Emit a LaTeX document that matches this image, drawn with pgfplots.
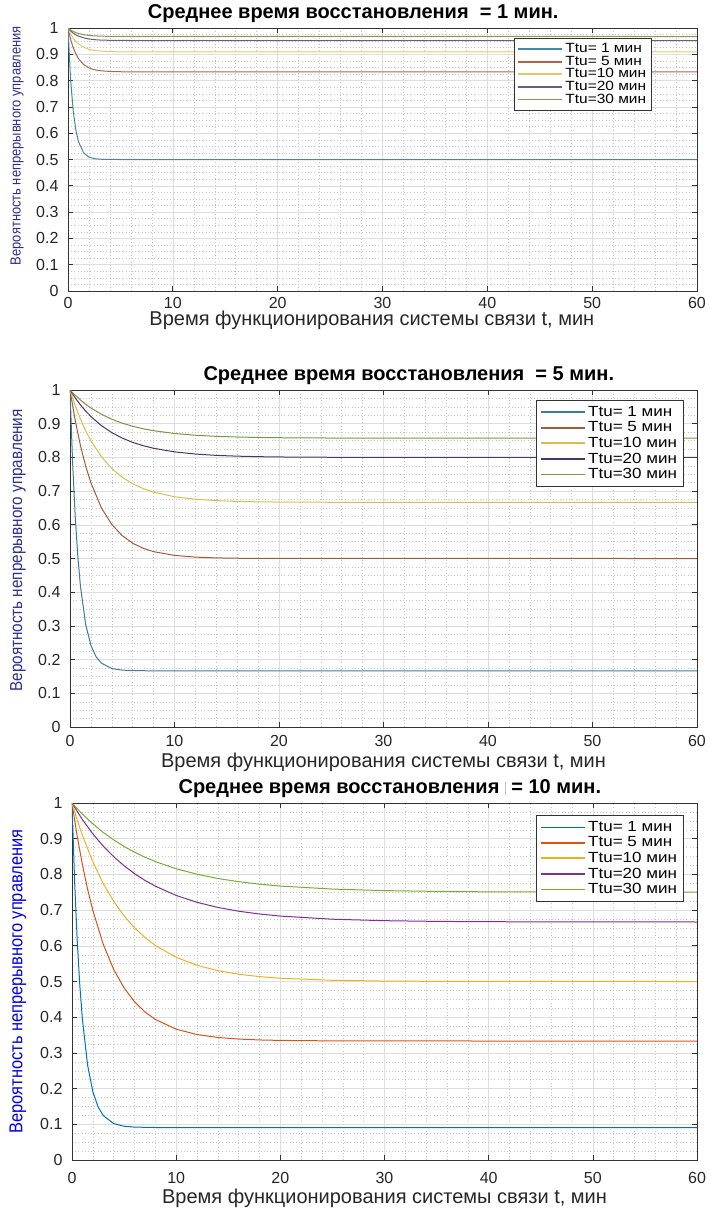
\documentclass[border=0pt]{standalone}
\usepackage{fontspec}
\setmainfont{Liberation Sans}
\newfontfamily\narrowfont[FakeStretch=0.88]{Liberation Sans}
\newfontfamily\wideface[FakeStretch=1.16]{Liberation Sans}
\usepackage{pgfplots}
\pgfplotsset{compat=1.18}

\definecolor{a1c1}{RGB}{70,135,165}
\definecolor{a1c2}{RGB}{175,100,70}
\definecolor{a1c3}{RGB}{225,200,110}
\definecolor{a1c4}{RGB}{110,90,130}
\definecolor{a1c5}{RGB}{140,150,80}
\definecolor{a2c1}{RGB}{60,125,150}
\definecolor{a2c2}{RGB}{165,90,55}
\definecolor{a2c3}{RGB}{215,190,80}
\definecolor{a2c4}{RGB}{80,50,100}
\definecolor{a2c5}{RGB}{120,150,70}
\definecolor{mc1}{HTML}{0072BD}
\definecolor{mc2}{HTML}{D95319}
\definecolor{mc3}{HTML}{EDB120}
\definecolor{mc4}{HTML}{7E2F8E}
\definecolor{mc5}{HTML}{77AC30}
\definecolor{ylab}{RGB}{45,45,150}
\definecolor{ylabb}{RGB}{0,0,235}

\pgfplotsset{
  matlab/.style={
    anchor=north west, scale only axis,
    xmin=0, xmax=60, ymin=0, ymax=1,
    xtick={0,10,20,30,40,50,60},
    ytick={0,0.1,0.2,0.3,0.4,0.5,0.6,0.7,0.8,0.9,1},
    minor x tick num=4, minor y tick num=3,
    grid=both,
    major grid style={draw=black!13, line width=0.45pt},
    minor grid style={draw=black!22, dotted, line width=0.35pt},
    axis line style={draw=black!80, line width=0.5pt},
    tick align=inside, tick pos=both,
    major tick length=3.5pt, minor tick length=0pt,
    tick style={draw=black!80, line width=0.5pt},
    /pgf/number format/assume math mode=true,
    ticklabel style={font=\fontsize{12}{14}\selectfont, text=black!85},
    yticklabel style={anchor=east, inner sep=0pt, xshift=-7pt},
    title style={at={(axis description cs:0.5,1)}, anchor=center, yshift=4.5pt,
                 font=\bfseries\fontsize{15}{17}\selectfont},
    xlabel style={at={(axis description cs:0.5,0)}, anchor=center,
                  font=\fontsize{15}{17}\selectfont, text=black!85},
    legend cell align=left,
    legend image code/.code={\draw[##1, line width=1.4pt] (0pt,0pt) -- (33pt,0pt);},
    every axis plot/.append style={line width=0.75pt, no markers},
  }
}

\begin{document}
\begin{tikzpicture}
\useasboundingbox (0,0) rectangle (531pt,-906pt);

% ---------------- Axis 1: Tv = 1 ----------------
\begin{axis}[matlab,
  at={(51pt,-21pt)}, width=471.75pt, height=197.25pt,
  title={Среднее время восстановления\ \ = 1 мин.},
  title style={xshift=-22pt},
  xlabel={Время функционирования системы связи t, мин},
  xlabel style={yshift=-21.75pt, xshift=-8pt},
  xticklabel style={anchor=center, yshift=-9pt},
  ylabel={Вероятность непрерывного управления},
  ylabel style={at={(axis description cs:-0.081,0.553)}, anchor=center,
                font=\narrowfont\fontsize{11}{13}\selectfont, text=ylab},
  legend style={at={(axis description cs:0.928,0.962)}, anchor=north east,
                draw=black!80, fill=white, font=\wideface\fontsize{10}{11}\selectfont,
                row sep=-3pt, inner sep=2pt},
]
\addplot[a1c1] coordinates {(0,1)(0.25,0.8033)(0.5,0.6839)(0.75,0.6116)(1,0.5677)(1.5,0.5249)(2,0.5092)(2.5,0.5034)(3,0.5012)(4,0.5002)(5,0.5)(60,0.5)};
\addplot[a1c2] coordinates {(0,1)(0.25,0.9568)(0.5,0.9248)(0.75,0.9011)(1,0.8835)(1.5,0.8609)(2,0.8484)(2.5,0.8416)(3,0.8379)(4,0.8347)(5,0.8337)(6,0.8334)(60,0.8333)};
\addplot[a1c3] coordinates {(0,1)(0.25,0.9781)(0.5,0.9615)(0.75,0.9489)(1,0.9394)(1.5,0.9266)(2,0.9192)(2.5,0.9149)(3,0.9125)(4,0.9102)(5,0.9095)(6,0.9092)(60,0.9091)};
\addplot[a1c4] coordinates {(0,1)(0.25,0.9890)(0.5,0.9806)(0.75,0.9741)(1,0.9691)(1.5,0.9623)(2,0.9582)(2.5,0.9558)(3,0.9544)(4,0.9531)(5,0.9526)(6,0.9525)(60,0.9524)};
\addplot[a1c5] coordinates {(0,1)(0.25,0.9926)(0.5,0.9870)(0.75,0.9826)(1,0.9792)(1.5,0.9746)(2,0.9718)(2.5,0.9701)(3,0.9692)(4,0.9682)(5,0.9679)(6,0.9678)(60,0.9677)};
\legend{Ttu= 1 мин, Ttu= 5 мин, Ttu=10 мин, Ttu=20 мин, Ttu=30 мин}
\end{axis}

% ---------------- Axis 2: Tv = 5 ----------------
\begin{axis}[matlab,
  at={(52.5pt,-292.5pt)}, width=470.25pt, height=252.75pt,
  title={Среднее время восстановления\ \ = 5 мин.},
  title style={xshift=19pt},
  xlabel={Время функционирования системы связи t, мин},
  xlabel style={yshift=-26.25pt},
  xticklabel style={anchor=center, yshift=-10.5pt},
  ylabel={Вероятность непрерывного управления},
  ylabel style={at={(axis description cs:-0.083,0.524)}, anchor=center,
                font=\narrowfont\fontsize{13}{15}\selectfont, text=ylab},
  legend style={at={(axis description cs:0.978,0.970)}, anchor=north east,
                draw=black!80, fill=white, font=\wideface\fontsize{11}{12}\selectfont,
                row sep=-1.5pt, inner sep=2.5pt},
]
\addplot[a2c1] coordinates {(0,1)(0.25,0.7840)(0.5,0.6240)(0.75,0.5055)(1,0.4177)(1.5,0.3045)(2,0.2423)(2.5,0.2082)(3,0.1895)(4,0.1735)(5,0.1688)(6,0.1673)(8,0.1667)(60,0.1667)};
\addplot[a2c2] coordinates {(0,1)(0.5,0.9094)(1,0.8352)(1.5,0.7744)(2,0.7247)(3,0.6506)(4,0.6010)(5,0.5677)(6,0.5454)(7,0.5304)(8,0.5204)(10,0.5092)(12,0.5041)(14,0.5018)(16,0.5008)(20,0.5002)(60,0.5)};
\addplot[a2c3] coordinates {(0,1)(0.5,0.9536)(1,0.9136)(1.5,0.8792)(2,0.8496)(3,0.8022)(4,0.7671)(5,0.7411)(6,0.7218)(7,0.7075)(8,0.6969)(10,0.6833)(12,0.6758)(14,0.6717)(16,0.6694)(18,0.6682)(20,0.6675)(25,0.6669)(30,0.6667)(60,0.6667)};
\addplot[a2c4] coordinates {(0,1)(0.5,0.9765)(1,0.9558)(1.5,0.9375)(2,0.9213)(3,0.8945)(4,0.8736)(5,0.8573)(6,0.8446)(7,0.8348)(8,0.8271)(10,0.8164)(12,0.8100)(14,0.8060)(16,0.8037)(18,0.8022)(20,0.8013)(25,0.8004)(30,0.8001)(60,0.8)};
\addplot[a2c5] coordinates {(0,1)(0.5,0.9843)(1,0.9703)(1.5,0.9578)(2,0.9467)(3,0.9281)(4,0.9133)(5,0.9016)(6,0.8923)(7,0.8850)(8,0.8792)(10,0.8710)(12,0.8658)(14,0.8625)(16,0.8605)(18,0.8592)(20,0.8584)(25,0.8575)(30,0.8572)(60,0.8571)};
\legend{Ttu= 1 мин, Ttu= 5 мин, Ttu=10 мин, Ttu=20 мин, Ttu=30 мин}
\end{axis}

% ---------------- Axis 3: Tv = 10 ----------------
\begin{axis}[matlab,
  at={(54pt,-602.25pt)}, width=468.75pt, height=267.75pt,
  title={Среднее время восстановления {\color{black!25}\rule[-1pt]{0.6pt}{10pt}} = 10 мин.},
  title style={xshift=4pt},
  xlabel={Время функционирования системы связи t, мин},
  xlabel style={yshift=-28.5pt},
  xticklabel style={anchor=center, yshift=-13.5pt},
  ylabel={Вероятность непрерывного управления},
  ylabel style={at={(axis description cs:-0.0864,0.5)}, anchor=center,
                font=\narrowfont\fontsize{14}{16}\selectfont, text=ylabb},
  legend style={at={(axis description cs:0.978,0.966)}, anchor=north east,
                draw=black!80, fill=white, font=\wideface\fontsize{11}{12}\selectfont,
                row sep=-1.5pt, inner sep=2.5pt},
]
\addplot[mc1] coordinates {(0,1)(0.25,0.7815)(0.5,0.6154)(0.75,0.4893)(1,0.3935)(1.5,0.2654)(2,0.1916)(2.5,0.1490)(3,0.1244)(4,0.1021)(5,0.0946)(6,0.0922)(8,0.0910)(60,0.0909)};
\addplot[mc2] coordinates {(0,1)(0.5,0.9071)(1,0.8272)(1.5,0.7584)(2,0.6992)(3,0.6044)(4,0.5341)(5,0.4820)(6,0.4435)(7,0.4150)(8,0.3938)(10,0.3665)(12,0.3515)(14,0.3433)(16,0.3388)(18,0.3363)(20,0.3350)(25,0.3337)(30,0.3334)(60,0.3333)};
\addplot[mc3] coordinates {(0,1)(0.5,0.9524)(1,0.9094)(2,0.8352)(3,0.7744)(4,0.7247)(5,0.6839)(6,0.6506)(7,0.6233)(8,0.6010)(10,0.5677)(12,0.5454)(14,0.5304)(16,0.5204)(18,0.5137)(20,0.5092)(25,0.5034)(30,0.5012)(35,0.5005)(40,0.5002)(60,0.5)};
\addplot[mc4] coordinates {(0,1)(1,0.9536)(2,0.9136)(3,0.8792)(4,0.8496)(5,0.8242)(6,0.8022)(7,0.7833)(8,0.7671)(10,0.7411)(12,0.7218)(14,0.7075)(16,0.6969)(18,0.6891)(20,0.6833)(25,0.6745)(30,0.6704)(35,0.6684)(40,0.6675)(50,0.6669)(60,0.6667)};
\addplot[mc5] coordinates {(0,1)(1,0.9688)(2,0.9415)(3,0.9176)(4,0.8967)(5,0.8783)(6,0.8623)(7,0.8483)(8,0.8360)(10,0.8159)(12,0.8005)(14,0.7886)(16,0.7796)(18,0.7727)(20,0.7674)(25,0.7589)(30,0.7546)(35,0.7524)(40,0.7512)(50,0.7503)(60,0.7501)};
\legend{Ttu= 1 мин, Ttu= 5 мин, Ttu=10 мин, Ttu=20 мин, Ttu=30 мин}
\end{axis}
\end{tikzpicture}
\end{document}
